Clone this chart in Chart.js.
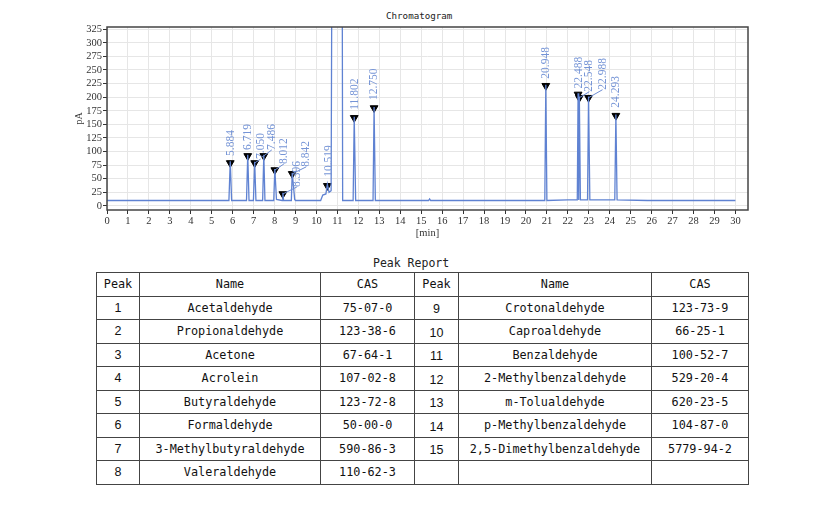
<!DOCTYPE html>
<html>
<head>
<meta charset="utf-8">
<script src="https://cdn.jsdelivr.net/npm/chart.js@4.4.0/dist/chart.umd.min.js"></script>
<style>
  body { margin: 0; background: #fff; width: 831px; height: 507px; position: relative; overflow: hidden; }
  #chartBox { position: absolute; left: 0; top: 0; width: 831px; height: 245px; }
  .caption { position: absolute; font-family: "DejaVu Sans Mono", monospace; color: #222; white-space: nowrap; }
  #report { position: absolute; left: 96px; top: 272px; width: 652px; border-collapse: collapse; table-layout: fixed; }
  #report td { border: 1px solid #444; height: 22.5px; padding: 0; text-align: center;
               font-family: "DejaVu Sans Mono", monospace; font-size: 11.8px; color: #111; }
  #report td.num { font-family: "Liberation Sans", Arial, sans-serif; font-size: 12.5px; }
  #report td.num2 { padding-top: 3px; height: 19.5px; }
</style>
</head>
<body>
<div class="caption" style="left:386px; top:10px; font-size:9.2px;">Chromatogram</div>
<div id="chartBox"><canvas id="chromChart"></canvas></div>
<div class="caption" style="left:373px; top:256px; font-size:11.5px;">Peak Report</div>
<table id="report"></table>

<script>
// retention time (min) of each marked peak and marker height (pA)
const peakTimes = [5.884, 6.719, 7.050, 7.486, 8.012, 8.396, 8.842, 10.519, 11.802, 12.750, 20.948, 22.488, 22.548, 22.988, 24.293];
const markerHeights = [79, 92, 79, 92, 66, 22, 59, 37, 162, 180, 221, 205, 199, 199, 166];

// detector trace (solvent peak goes off scale)
const traceTime = [0, 5.82, 5.884, 5.95, 6.66, 6.719, 6.78, 6.99, 7.05, 7.11, 7.43, 7.486, 7.54,
  7.96, 8.012, 8.09, 8.36, 8.396, 8.43, 8.80, 8.842, 8.96, 9.0,
  10.2, 10.3, 10.45, 10.519, 10.6, 10.7, 10.78, 11.2, 11.25,
  11.75, 11.802, 11.87, 12.7, 12.75, 12.81, 15.35, 15.4, 15.45,
  20.9, 20.948, 21.0, 22.0, 22.45, 22.488, 22.52, 22.548, 22.6, 22.94, 22.988, 23.05,
  24.24, 24.293, 24.35, 25.8, 30];
const traceSignal = [10, 10, 82, 10, 10, 94, 10, 10, 81, 10, 10, 94, 10,
  10, 68, 12, 10, 24, 10, 10, 61, 12, 10,
  10, 20, 22, 40, 25, 28, 1000, 1000, 10,
  10, 164, 10, 10, 182, 10, 10, 13, 10,
  10, 223, 10, 11, 11, 207, 11, 201, 11, 11, 201, 11,
  11, 168, 11, 10, 10];

const xTicks = [0, 1, 2, 3, 4, 5, 6, 7, 8, 9, 10, 11, 12, 13, 14, 15, 16, 17, 18, 19, 20, 21, 22, 23, 24, 25, 26, 27, 28, 29, 30];
const yTicks = [0, 25, 50, 75, 100, 125, 150, 175, 200, 225, 250, 275, 300, 325];

// peak report
const peakNo = [1, 2, 3, 4, 5, 6, 7, 8, 9, 10, 11, 12, 13, 14, 15];
const compoundNames = ["Acetaldehyde", "Propionaldehyde", "Acetone", "Acrolein", "Butyraldehyde",
  "Formaldehyde", "3-Methylbutyraldehyde", "Valeraldehyde", "Crotonaldehyde", "Caproaldehyde",
  "Benzaldehyde", "2-Methylbenzaldehyde", "m-Tolualdehyde", "p-Methylbenzaldehyde", "2,5-Dimethylbenzaldehyde"];
const casNumbers = ["75-07-0", "123-38-6", "67-64-1", "107-02-8", "123-72-8", "50-00-0", "590-86-3",
  "110-62-3", "123-73-9", "66-25-1", "100-52-7", "529-20-4", "620-23-5", "104-87-0", "5779-94-2"];

// label shift from the marker in px [dx, dy] (crowded ones get a leader line)
const labelShift = [[1, 4], [0, 3], [6, 1], [8, 3], [9, 3], [14, 4], [14, 4], [2, 6],
  [1, 5], [0, 5], [0, 4], [1, 3], [10, 3], [14, 5], [0, 5]];

const peakLabelPlugin = {
  id: 'peakLabels',
  afterDatasetsDraw(chart) {
    const { ctx, chartArea, scales: { x, y } } = chart;
    ctx.save();
    // frame
    ctx.strokeStyle = '#444';
    ctx.lineWidth = 1.5;
    ctx.strokeRect(chartArea.left, chartArea.top, chartArea.right - chartArea.left, chartArea.bottom - chartArea.top);
    ctx.font = '11.5px "Liberation Serif", serif';
    ctx.fillStyle = '#7594d6';
    ctx.strokeStyle = '#6d8dd4';
    ctx.lineWidth = 1;
    peakTimes.forEach((t, i) => {
      const px = x.getPixelForValue(t);
      const py = y.getPixelForValue(markerHeights[i]);
      const [dx, dy] = labelShift[i];
      const bx = px + dx, by = py - 3 - dy;
      if (dx > 3) {
        ctx.beginPath();
        ctx.moveTo(px, py);
        ctx.lineTo(bx, by);
        ctx.stroke();
      }
      ctx.save();
      ctx.translate(bx, by);
      ctx.rotate(-Math.PI / 2);
      ctx.textAlign = 'left';
      ctx.textBaseline = 'middle';
      ctx.fillText(t.toFixed(3), 0, 0);
      ctx.restore();
    });
    ctx.restore();
  }
};

const tickFont = { family: '"Liberation Serif", serif', size: 10.5 };

new Chart(document.getElementById('chromChart'), {
  type: 'line',
  data: {
    datasets: [{
      data: traceTime.map((t, i) => ({ x: t, y: traceSignal[i] })),
      borderColor: '#5f82d2',
      borderWidth: 1.3,
      pointRadius: 0,
      tension: 0
    }, {
      type: 'scatter',
      data: peakTimes.map((t, i) => ({ x: t, y: markerHeights[i] })),
      pointStyle: 'triangle',
      rotation: 180,
      radius: 4.5,
      backgroundColor: '#000',
      borderColor: '#000',
      borderWidth: 1
    }]
  },
  options: {
    responsive: true,
    maintainAspectRatio: false,
    animation: false,
    layout: { padding: { top: 27, right: 83, left: 0, bottom: 0 } },
    plugins: { legend: { display: false }, tooltip: { enabled: false } },
    scales: {
      x: {
        type: 'linear',
        min: 0,
        max: 30.6,
        afterBuildTicks: s => { s.ticks = xTicks.map(v => ({ value: v })); },
        afterFit: s => { s.height = 35; },
        ticks: { callback: v => String(v), font: tickFont, color: '#333', padding: 1, maxRotation: 0, autoSkip: false },
        grid: { color: '#e6e6e6', tickColor: '#333', tickLength: 4 },
        border: { display: false },
        title: { display: true, text: '[min]', font: { family: '"Liberation Serif", serif', size: 10.5 }, color: '#333', padding: { top: 0, bottom: 5 } }
      },
      y: {
        min: -7.5,
        max: 329,
        afterBuildTicks: s => { s.ticks = yTicks.map(v => ({ value: v })); },
        afterFit: s => { s.width = 107; },
        ticks: { callback: v => String(v), font: tickFont, color: '#333', padding: 1, autoSkip: false },
        grid: { color: '#e6e6e6', tickColor: '#333', tickLength: 4 },
        border: { display: false },
        title: { display: true, text: 'pA', font: { family: '"Liberation Serif", serif', size: 10 }, color: '#333', padding: { top: 73, bottom: 0 } }
      }
    }
  },
  plugins: [peakLabelPlugin]
});

// peak report table: peaks 1-8 on the left, 9-15 on the right
const table = document.getElementById('report');
const widths = [43, 181, 94, 44, 193, 97];
let html = '<colgroup>' + widths.map(w => `<col style="width:${w}px">`).join('') + '</colgroup>';
html += '<tr><td>Peak</td><td>Name</td><td>CAS</td><td>Peak</td><td>Name</td><td>CAS</td></tr>';
for (let i = 0; i < 8; i++) {
  const j = i + 8;
  html += '<tr>' +
    `<td class="num">${peakNo[i]}</td><td>${compoundNames[i]}</td><td>${casNumbers[i]}</td>` +
    (j < peakNo.length
      ? `<td class="num num2">${peakNo[j]}</td><td>${compoundNames[j]}</td><td>${casNumbers[j]}</td>`
      : '<td></td><td></td><td></td>') +
    '</tr>';
}
table.innerHTML = html;
</script>
</body>
</html>
